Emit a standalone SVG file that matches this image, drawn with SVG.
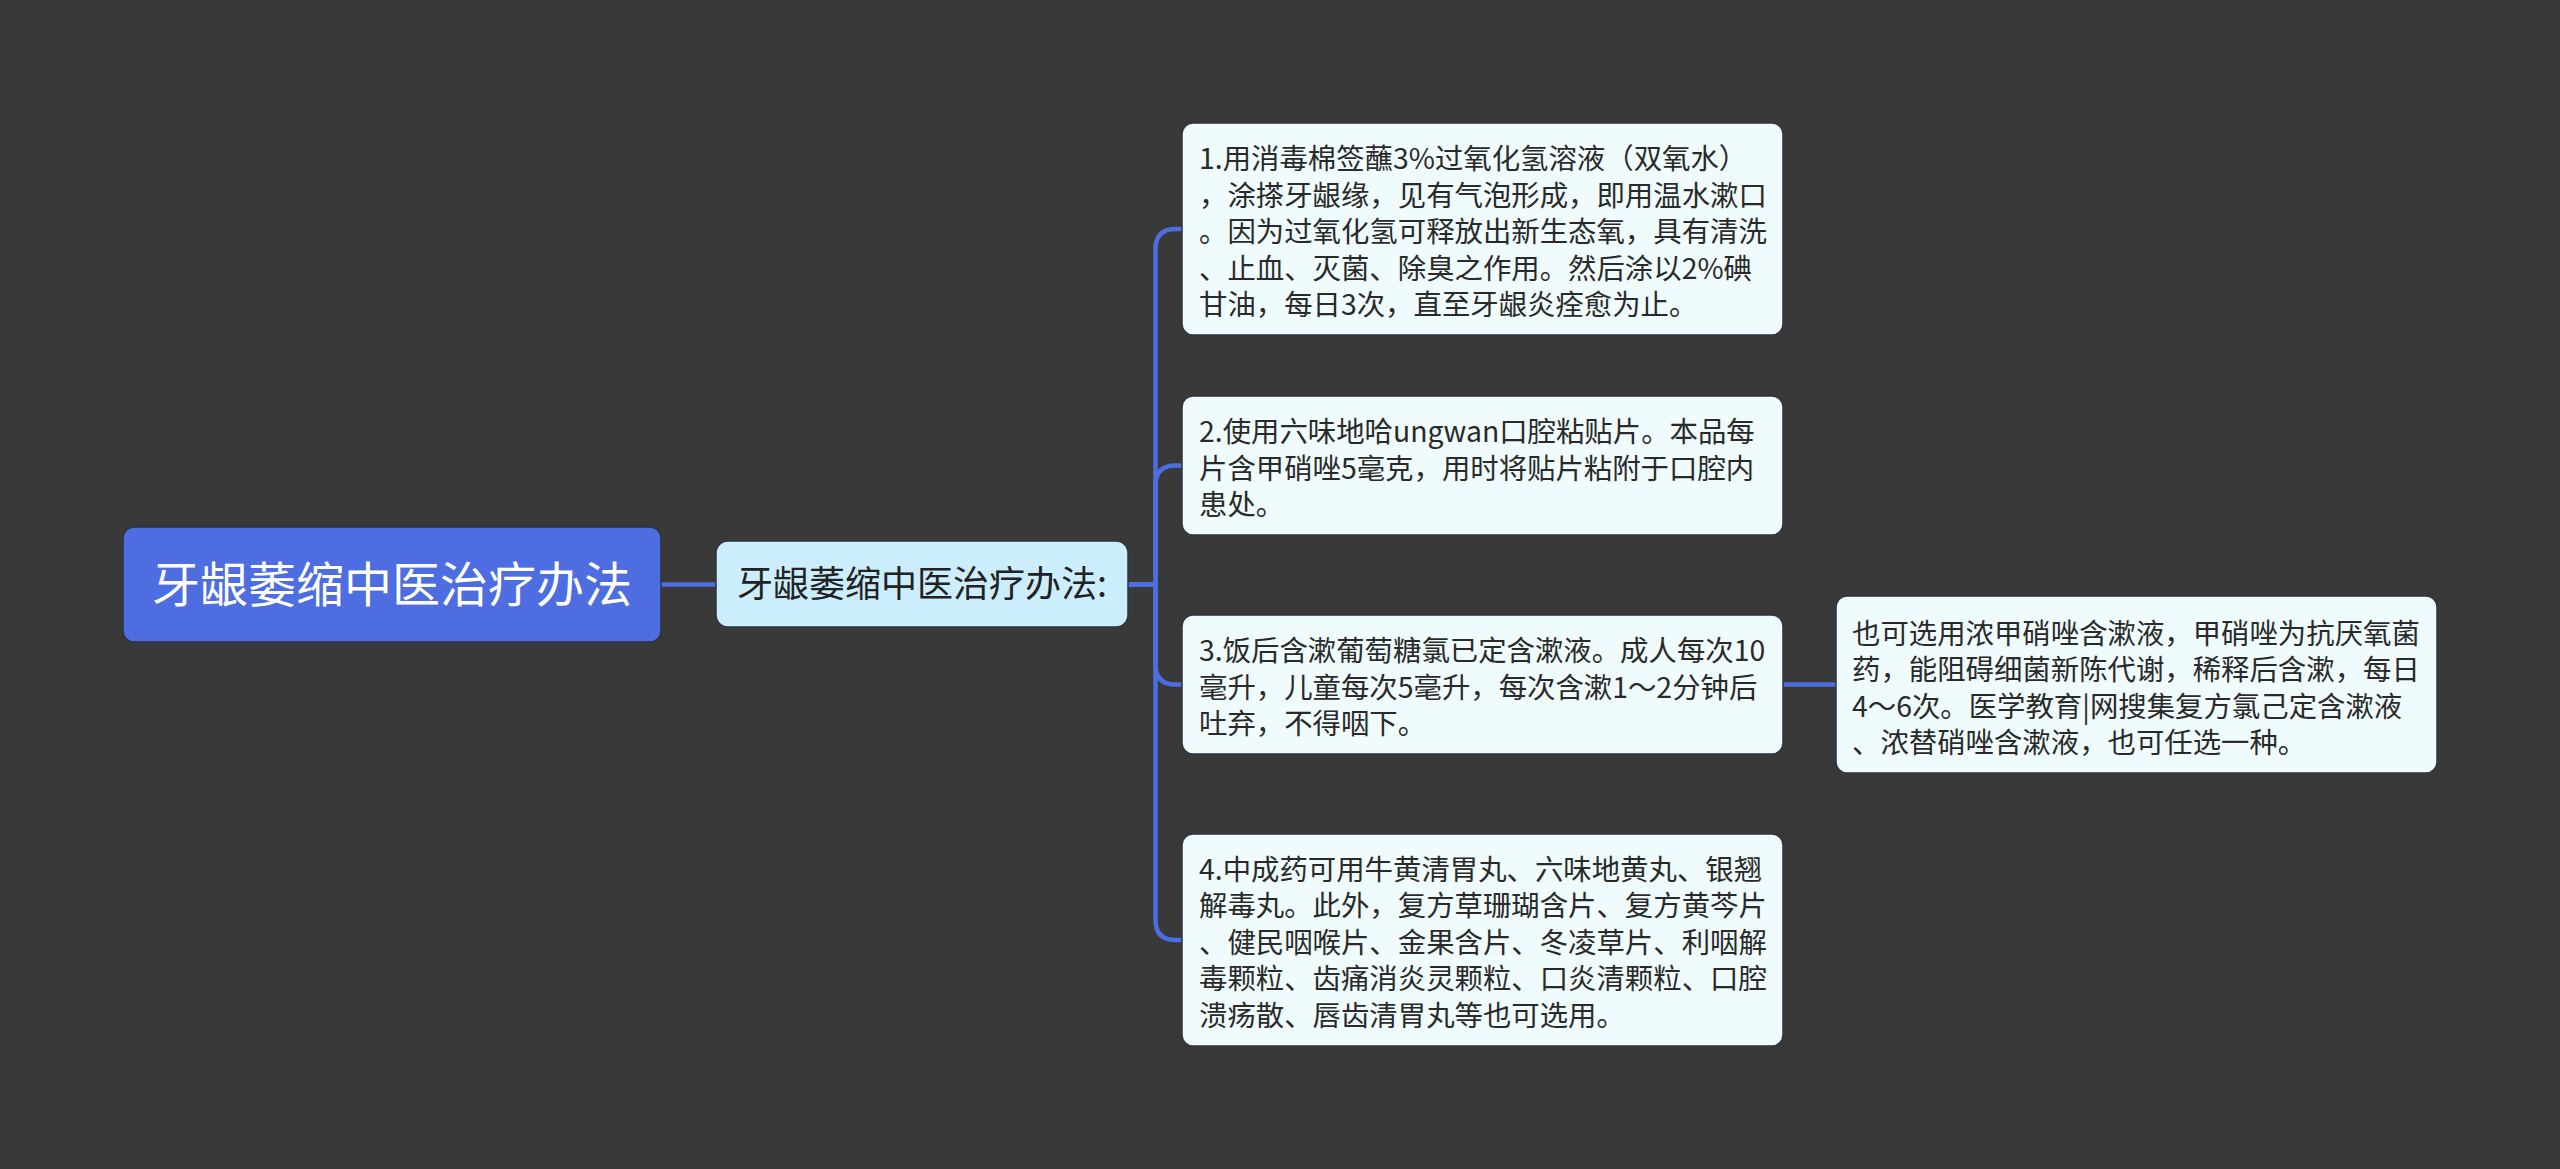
<svg xmlns="http://www.w3.org/2000/svg" width="2560" height="1169" viewBox="0 0 2560 1169">
<style>
.bg{fill:#3a393a}
.conn{fill:none;stroke:#4d6ee0;stroke-width:4.5;stroke-linecap:round;stroke-linejoin:round}
.root{fill:#4d6de0;stroke:#2e3340;stroke-width:1.5}
.sub{fill:#cbedfc;stroke:#2e3340;stroke-width:1.5}
.leaf{fill:#effbfc;stroke:#2e3340;stroke-width:1.5}
text{font-family:"Noto Sans CJK SC","Microsoft YaHei",sans-serif}
.rt{fill:#ffffff;font-size:48px}
.st{fill:#222222;font-size:36px}
.lt{fill:#2a2a2a;font-size:28.4px}
</style>
<rect class="bg" x="0" y="0" width="2560" height="1169"/>
<g id="connectors">
<path class="conn" d="M661 584.5 L716 584.5"/>
<path class="conn" d="M1128 584.5 L1155.5 584.5 L1155.5 249 Q1155.5 229 1175.5 229 L1182 229"/>
<path class="conn" d="M1128 584.5 L1155.5 584.5 L1155.5 485.5 Q1155.5 465.5 1175.5 465.5 L1182 465.5"/>
<path class="conn" d="M1128 584.5 L1155.5 584.5 L1155.5 664.5 Q1155.5 684.5 1175.5 684.5 L1182 684.5"/>
<path class="conn" d="M1128 584.5 L1155.5 584.5 L1155.5 920 Q1155.5 940 1175.5 940 L1182 940"/>
<path class="conn" d="M1783 684.5 L1836 684.5"/>
</g>
<g id="root">
<rect class="root" x="123" y="527" width="538" height="115" rx="11"/>
<text class="rt" x="392" y="602" text-anchor="middle">牙龈萎缩中医治疗办法</text>
</g>
<g id="sub">
<rect class="sub" x="716" y="541" width="412" height="86" rx="12"/>
<text class="st" x="922" y="597" text-anchor="middle">牙龈萎缩中医治疗办法:</text>
</g>
<g id="leaf1">
<rect class="leaf" x="1182" y="123" width="601" height="212" rx="11"/>
<text class="lt" x="1199" y="169">1.用消毒棉签蘸3%过氧化氢溶液（双氧水）</text>
<text class="lt" x="1199" y="205.5">，涂搽牙龈缘，见有气泡形成，即用温水漱口</text>
<text class="lt" x="1199" y="242">。因为过氧化氢可释放出新生态氧，具有清洗</text>
<text class="lt" x="1199" y="278.5">、止血、灭菌、除臭之作用。然后涂以2%碘</text>
<text class="lt" x="1199" y="315">甘油，每日3次，直至牙龈炎痊愈为止。</text>
</g>
<g id="leaf2">
<rect class="leaf" x="1182" y="396" width="601" height="139" rx="11"/>
<text class="lt" x="1199" y="442">2.使用六味地哈ungwan口腔粘贴片。本品每</text>
<text class="lt" x="1199" y="478.5">片含甲硝唑5毫克，用时将贴片粘附于口腔内</text>
<text class="lt" x="1199" y="515">患处。</text>
</g>
<g id="leaf3">
<rect class="leaf" x="1182" y="615" width="601" height="139" rx="11"/>
<text class="lt" x="1199" y="661">3.饭后含漱葡萄糖氯已定含漱液。成人每次10</text>
<text class="lt" x="1199" y="697.5">毫升，儿童每次5毫升，每次含漱1～2分钟后</text>
<text class="lt" x="1199" y="734">吐弃，不得咽下。</text>
</g>
<g id="leaf4">
<rect class="leaf" x="1182" y="834" width="601" height="212" rx="11"/>
<text class="lt" x="1199" y="879.5">4.中成药可用牛黄清胃丸、六味地黄丸、银翘</text>
<text class="lt" x="1199" y="916">解毒丸。此外，复方草珊瑚含片、复方黄芩片</text>
<text class="lt" x="1199" y="952.5">、健民咽喉片、金果含片、冬凌草片、利咽解</text>
<text class="lt" x="1199" y="989">毒颗粒、齿痛消炎灵颗粒、口炎清颗粒、口腔</text>
<text class="lt" x="1199" y="1025.5">溃疡散、唇齿清胃丸等也可选用。</text>
</g>
<g id="leaf5">
<rect class="leaf" x="1836" y="596" width="601" height="177" rx="11"/>
<text class="lt" x="1852" y="643.5">也可选用浓甲硝唑含漱液，甲硝唑为抗厌氧菌</text>
<text class="lt" x="1852" y="680">药，能阻碍细菌新陈代谢，稀释后含漱，每日</text>
<text class="lt" x="1852" y="716.5">4～6次。医学教育|网搜集复方氯己定含漱液</text>
<text class="lt" x="1852" y="753">、浓替硝唑含漱液，也可任选一种。</text>
</g>
</svg>
